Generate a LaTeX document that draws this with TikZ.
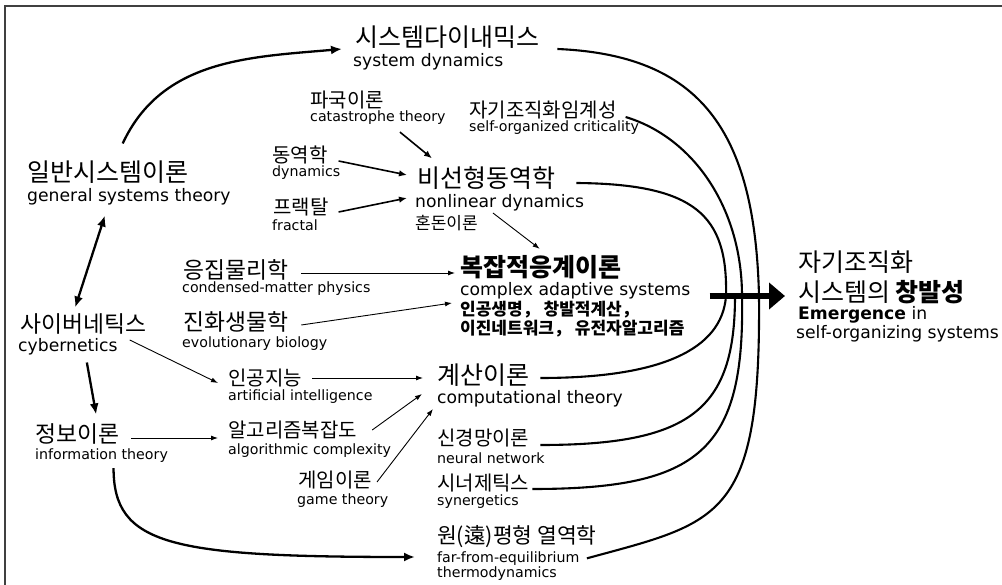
\documentclass[tikz,border=0pt]{standalone}
\usepackage{fontspec}
\setmainfont{DejaVu Sans}
\newfontfamily\kr{Noto Sans CJK KR}
\usetikzlibrary{arrows.meta}

\begin{document}
\begin{tikzpicture}[x=1pt,y=1pt,
            every node/.style={inner sep=0pt,anchor=west},
            kbig/.style={font=\kr\fontsize{25}{30}\selectfont},
            kmid/.style={font=\kr\fontsize{22.8}{27}\selectfont},
            kfe/.style={font=\kr\fontsize{21.5}{26}\selectfont},
            ksmall/.style={font=\kr\fontsize{20}{24}\selectfont},
            knote/.style={font=\kr\fontsize{17}{20}\selectfont},
            ebig/.style={font=\fontsize{17.2}{20}\selectfont},
            esmall/.style={font=\fontsize{14.2}{17}\selectfont},
            strong/.style={line width=2.3pt,-{Latex[length=11pt,width=9pt]}},
            medium/.style={line width=1.6pt,-{Latex[length=8pt,width=6.5pt]}},
            weak/.style={line width=0.9pt,-{Latex[length=7pt,width=5pt]}},
            merge/.style={line width=2.1pt}]
            \useasboundingbox (0,0) rectangle (1002,-585);
            \clip (0,0) rectangle (1002,-585);
            \draw [line width=1.2pt,black!75] (5,-6) rectangle (1020,-600);

            % left column
            \node[kbig] (gstK) at (27,-172) {일반시스템이론};
            \node[ebig] (gstE) at (27,-197) {general systems theory};
            \node[kmid] (cyK) at (20,-324) {사이버네틱스};
            \node[ebig] (cyE) at (18,-347) {cybernetics};
            \node[kmid] (itK) at (35,-434) {정보이론};
            \node[esmall] (itE) at (35,-456) {information theory};

            % middle
            \node[kbig] (sdK) at (355,-37) {시스템다이내믹스};
            \node[ebig] (sdE) at (353,-62) {system dynamics};
            \node[ksmall] (ctK) at (310,-100) {파국이론};
            \node[esmall] (ctE) at (310,-118) {catastrophe theory};
            \node[ksmall] (socK) at (469,-110) {자기조직화임계성};
            \node[esmall] (socE) at (469,-128) {self-organized criticality};
            \node[ksmall] (dyK) at (272,-155) {동역학};
            \node[esmall] (dyE) at (272,-173) {dynamics};
            \node[ksmall] (frK) at (273,-207) {프랙탈};
            \node[esmall] (frE) at (272,-225) {fractal};
            \node[kbig] (ndK) at (417,-178) {비선형동역학};
            \node[ebig] (ndE) at (415,-203) {nonlinear dynamics};
            \node[knote] (chaos) at (415,-223) {혼돈이론};
            \node[kmid] (cmK) at (183,-270) {응집물리학};
            \node[esmall] (cmE) at (182,-289) {condensed-matter physics};
            \node[kmid] (ebK) at (183,-322) {진화생물학};
            \node[esmall] (ebE) at (182,-344) {evolutionary biology};
            \node[kbig] (casK) at (460,-267) {\bfseries 복잡적응계이론};
            \node[ebig] (casE) at (460,-291) {complex adaptive systems};
            \node[knote] (casX1) at (460,-310) {\bfseries 인공생명， 창발적계산，};
            \node[knote] (casX2) at (460,-329) {\bfseries 이진네트워크， 유전자알고리즘};
            \node[ksmall] (aiK) at (228,-378) {인공지능};
            \node[esmall] (aiE) at (228,-397) {artificial intelligence};
            \node[ksmall] (acK) at (228,-430) {알고리즘복잡도};
            \node[esmall] (acE) at (228,-451) {algorithmic complexity};
            \node[ksmall] (gtK) at (298,-480) {게임이론};
            \node[esmall] (gtE) at (297,-501) {game theory};
            \node[kbig] (compK) at (437,-375) {계산이론};
            \node[ebig] (compE) at (437,-399) {computational theory};
            \node[ksmall] (nnK) at (437,-438) {신경망이론};
            \node[esmall] (nnE) at (437,-458) {neural network};
            \node[ksmall] (synK) at (437,-483) {시너제틱스};
            \node[esmall] (synE) at (437,-502) {synergetics};
            \node[kfe] (feK) at (437,-537) {원(遠)평형 열역학};
            \node[esmall] (feE1) at (437,-559) {far-from-equilibrium};
            \node[esmall] (feE2) at (437,-574) {thermodynamics};

            % right
            \node[kbig] (emK1) at (798,-262) {자기조직화};
            \node[kbig] (emK2) at (798,-292) {시스템의 {\bfseries 창발성}};
            \node[ebig] (emE1) at (798,-315) {\textbf{Emergence} in};
            \node[ebig] (emE2) at (796,-334) {self-organizing systems};

            % thick arrows
            \draw [strong] ([xshift=15pt,yshift=17pt]gstK.north) to[out=65,in=185] ([xshift=-13pt,yshift=-12pt]sdK.west);
            \draw [strong,{Latex[length=11pt,width=9pt]}-{Latex[length=11pt,width=9pt]}] ([xshift=-24pt,yshift=-10pt]gstE.south) -- ([xshift=-8pt,yshift=6pt]cyK.north);
            \draw [strong] ([xshift=19pt,yshift=-7pt]cyE.south) -- ([xshift=19pt,yshift=9pt]itK.north);
            \draw [strong] ([xshift=12pt,yshift=-5pt]itE.south) .. controls +(0,-77) and +(-245,0) .. ([xshift=-22pt,yshift=2pt]feE1.west);

            % into nonlinear dynamics
            \draw [medium] ([xshift=22pt,yshift=-7pt]ctE.south) -- ([xshift=15pt,yshift=8pt]ndK.north west);
            \draw [medium] ([xshift=11pt,yshift=-6pt]dyK.east) -- ([xshift=-10pt,yshift=3pt]ndK.west);
            \draw [medium] ([xshift=10pt,yshift=-5pt]frK.east) -- ([xshift=-8pt,yshift=5pt]ndE.west);

            % thin arrows
            \draw [weak] ([xshift=15pt,yshift=10pt]chaos.east) -- ([xshift=-1pt,yshift=6pt]casK.north);
            \draw [weak] ([xshift=13pt,yshift=-3pt]cmK.east) -- ([xshift=-5pt,yshift=-6pt]casK.west);
            \draw [weak] ([xshift=13pt,yshift=-3pt]ebK.east) -- ([xshift=-8pt,yshift=7pt]casX1.west);
            \draw [weak] ([xshift=12pt,yshift=7pt]cyE.east) -- ([xshift=-10pt,yshift=-5pt]aiK.west);
            \draw [weak] ([xshift=10pt]aiK.east) -- ([xshift=-14pt,yshift=-3pt]compK.west);
            \draw [weak] ([xshift=12pt,yshift=-4pt]itK.east) -- ([xshift=-10pt,yshift=-8pt]acK.west);
            \draw [weak] ([xshift=15pt]acK.east) -- ([xshift=-15pt,yshift=5pt]compE.west);
            \draw [weak] ([xshift=5pt,yshift=-2pt]gtK.east) -- ([xshift=-4pt,yshift=-10pt]compE.west);

            % bundle into the big arrow
            \coordinate (j1) at (726,-296);
            \coordinate (j2) at (735,-296);
            \coordinate (j3) at (742,-296);
            \coordinate (j4) at (759,-296);
            \draw [merge] ([xshift=18pt,yshift=-12pt]sdK.east) .. controls (700,-55) and (755,-130) .. (j4);
            \draw [merge] ([xshift=9pt,yshift=-7pt]socK.east) .. controls (695,-138) and (742,-210) .. (j3);
            \draw [merge] ([xshift=21pt,yshift=-5pt]ndK.east) .. controls (695,-184) and (728,-215) .. (j1);
            \draw [merge] ([xshift=11pt,yshift=-3pt]compK.east) .. controls (660,-378) and (722,-350) .. (j1);
            \draw [merge] ([xshift=11pt,yshift=-7pt]nnK.east) .. controls (690,-445) and (735,-410) .. (j2);
            \draw [merge] ([xshift=3pt,yshift=-6pt]synK.east) .. controls (700,-489) and (745,-450) .. (j3);
            \draw [merge] ([xshift=-10pt,yshift=-10pt]feK.south east) .. controls (720,-522) and (761,-520) .. (j4);
            \draw [line width=6pt,-{Triangle[length=16pt,width=26pt]}] ([xshift=19pt,yshift=-5pt]casE.east) -- ([xshift=-13pt,yshift=-4pt]emK2.west);
        \end{tikzpicture}
\end{document}
